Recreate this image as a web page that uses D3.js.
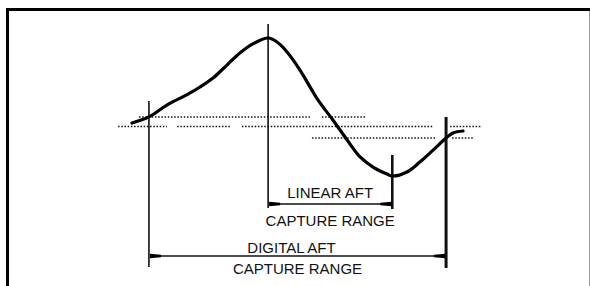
<!DOCTYPE html>
<html>
<head>
<meta charset="utf-8">
<script src="https://cdnjs.cloudflare.com/ajax/libs/d3/7.8.5/d3.min.js"></script>
<style>
  html, body { margin: 0; padding: 0; background: #fff; }
  svg { display: block; }
  text { font-family: "Liberation Sans", Arial, sans-serif; font-size: 15px; fill: #111; }
</style>
</head>
<body>
<svg id="aft_chart" width="590" height="286"></svg>
<script>
// discriminator response curve (x = frequency offset units, y = output level units)
var curveX = [0, 5.1, 10.5, 16.6, 20.5, 24.4, 28.6, 32.5, 36.4, 41.0, 43.7, 46.7, 50.6, 53.3, 56.0, 60.5, 64.8, 68.7, 72.6, 76.8, 78.4, 82.8, 86.7, 90.7, 94.6, 96.7, 99.7];
var curveY = [38.4, 42.8, 51.4, 59.0, 64.5, 71.0, 80.4, 89.1, 95.7, 100, 97.1, 89.9, 76.8, 65.9, 55.1, 40.6, 26.1, 13.8, 6.5, 1.4, 0, 2.9, 10.1, 18.8, 27.5, 31.2, 32.6];

// marker positions (x) : digital start, peak, minimum, digital end
var markerX = [5.1, 41.0, 78.4, 94.6];

// dotted reference levels and their dotted segments
var levelY = [42.8, 35.9, 27.5];
var levelSegs = [
  [[2.1, 53.6], [57.2, 70.5]],
  [[-4.2, 10.5], [13.6, 29.5], [33.1, 90.7], [95.8, 105.1]],
  [[54.2, 91.3], [96.4, 102.7]]
];

// capture ranges: [from marker, to marker]
var rangeNames = ["LINEAR AFT", "DIGITAL AFT"];
var rangeSub = ["CAPTURE RANGE", "CAPTURE RANGE"];
var rangeFrom = [1, 0];
var rangeTo = [2, 3];

var svg = d3.select("#aft_chart");

var x = d3.scaleLinear().domain([0, 100]).range([132, 464]);
var y = d3.scaleLinear().domain([0, 100]).range([176, 38]);

// frame
svg.append("line").attr("x1", 589.5).attr("x2", 589.5).attr("y1", 9).attr("y2", 286)
  .attr("stroke", "#999").attr("stroke-width", 1);
svg.append("path").attr("d", "M7.5,286 V9.5 H590")
  .attr("fill", "none").attr("stroke", "#000").attr("stroke-width", 3);

// dotted levels
levelSegs.forEach(function(segs, i){
  svg.append("g").selectAll("line")
    .data(segs)
    .enter().append("line")
      .attr("x1", function(d){ return x(d[0]); })
      .attr("x2", function(d){ return x(d[1]); })
      .attr("y1", y(levelY[i]))
      .attr("y2", y(levelY[i]))
      .attr("stroke", "#111")
      .attr("stroke-width", 1.6)
      .attr("stroke-dasharray", "1.5,1.7");
});

// vertical markers (top / bottom in px, widths)
var markTop = [101, 24, 155, 117];
var markBot = [267, 208, 209, 268];
var markW = [1.6, 1.6, 2.6, 3];
svg.append("g").selectAll("line")
  .data(markerX)
  .enter().append("line")
    .attr("x1", function(d){ return x(d); })
    .attr("x2", function(d){ return x(d); })
    .attr("y1", function(d, i){ return markTop[i]; })
    .attr("y2", function(d, i){ return markBot[i]; })
    .attr("stroke", "#111")
    .attr("stroke-width", function(d, i){ return markW[i]; });

// response curve
var pts = curveX.map(function(d, i){ return [d, curveY[i]]; });
var line = d3.line()
  .x(function(d){ return x(d[0]); })
  .y(function(d){ return y(d[1]); })
  .curve(d3.curveCatmullRom.alpha(0.5));
svg.append("path")
  .attr("d", line(pts))
  .attr("fill", "none")
  .attr("stroke", "#000")
  .attr("stroke-width", 3.2)
  .attr("stroke-linecap", "round");

// capture range arrows
var arrowY = [204, 256];
var nameY = [198, 253];
var subY = [226, 274];
var nameDx = [0, -6];
function head(x0, yy, dir){
  return "M" + x0 + "," + (yy - 2.3) + " L" + (x0 + dir * 11) + "," + (yy - 1.2) +
    " L" + (x0 + dir * 11) + "," + (yy + 1.2) + " L" + x0 + "," + (yy + 2.3) + "Z";
}
rangeNames.forEach(function(name, i){
  var xa = x(markerX[rangeFrom[i]]) + 1, xb = x(markerX[rangeTo[i]]) - 1;
  var g = svg.append("g");
  g.append("line").attr("x1", xa).attr("x2", xb)
    .attr("y1", arrowY[i]).attr("y2", arrowY[i])
    .attr("stroke", "#111").attr("stroke-width", 1.4);
  g.append("path").attr("d", head(xa, arrowY[i], 1)).attr("fill", "#000");
  g.append("path").attr("d", head(xb, arrowY[i], -1)).attr("fill", "#000");
  var cx = (xa + xb) / 2;
  g.append("text").attr("x", cx + nameDx[i]).attr("y", nameY[i])
    .attr("text-anchor", "middle").text(name);
  g.append("text").attr("x", cx).attr("y", subY[i])
    .attr("text-anchor", "middle").text(rangeSub[i]);
});
</script>
</body>
</html>
